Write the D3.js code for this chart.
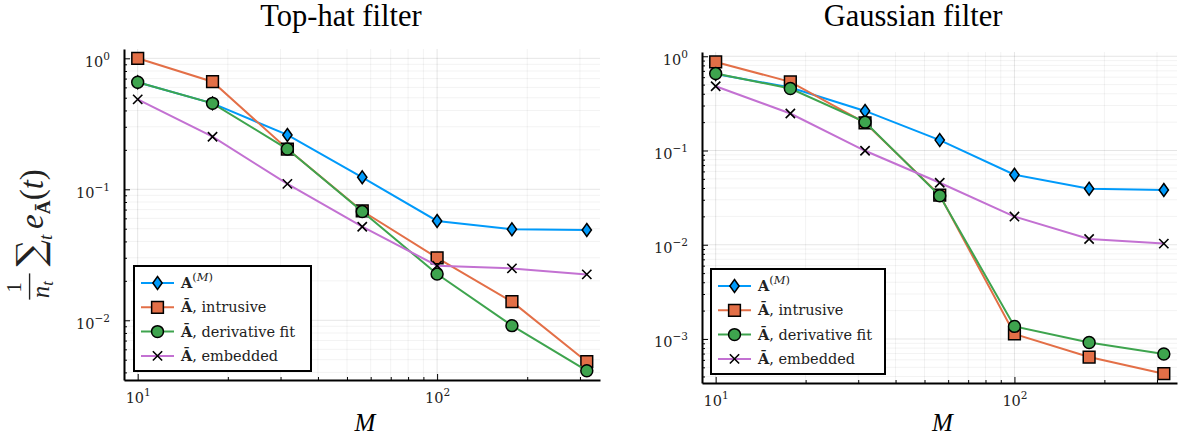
<!DOCTYPE html>
<html>
<head>
<meta charset="utf-8">
<script src="https://cdn.jsdelivr.net/npm/d3@7"></script>
<style>
  body { margin: 0; background: #fff; }
  svg { display: block; }
</style>
</head>
<body>
<svg id="chart" width="1181" height="441" font-family="Liberation Serif"></svg>
<script>
// reduced dimension M
const M = [10, 17.78, 31.62, 56.23, 100, 177.8, 316.2]

// top-hat filter
const topHatA = [0.656, 0.453, 0.26, 0.1235, 0.0573, 0.0495, 0.0489]
const topHatIntrusive = [1.0, 0.663, 0.203, 0.0683, 0.030, 0.01387, 0.00483]
const topHatDerivFit = [0.656, 0.453, 0.203, 0.0676, 0.02256, 0.0091, 0.00412]
const topHatEmbedded = [0.486, 0.252, 0.110, 0.0518, 0.0261, 0.0249, 0.0224]

// gaussian filter
const gaussA = [0.65, 0.466, 0.263, 0.129, 0.0553, 0.0393, 0.0381]
const gaussIntrusive = [0.87, 0.535, 0.197, 0.0337, 0.00113, 0.000643, 0.000428]
const gaussDerivFit = [0.655, 0.455, 0.2, 0.0331, 0.00136, 0.000918, 0.000692]
const gaussEmbedded = [0.481, 0.247, 0.0993, 0.0455, 0.0199, 0.0115, 0.01028]

const xTicks = [10, 100]
const yTicksTopHat = [1, 0.1, 0.01]
const yTicksGauss = [1, 0.1, 0.01, 0.001]

const COLORS = ["#009AFA", "#E36F47", "#3EA44E", "#C371D2"]
const MARKERS = ["diamond", "square", "circle", "times"]
const SMALLFONT = "DejaVu Serif"

const svg = d3.select("#chart")

// custom diamond, a bit wider than d3.symbolDiamond
const diamond = {
  draw(ctx, size) {
    const h = Math.sqrt(size) * 0.95, w = h * 0.72
    ctx.moveTo(0, -h); ctx.lineTo(w, 0); ctx.lineTo(0, h); ctx.lineTo(-w, 0); ctx.closePath()
  }
}

function drawMarker(g, kind, color, cx, cy) {
  if (kind == "times") {
    g.append("path")
      .attr("d", d3.symbol(d3.symbolTimes, 58)())
      .attr("transform", `translate(${cx},${cy})`)
      .attr("fill", "none").attr("stroke", "#000").attr("stroke-width", 1.6)
    return
  }
  let type = kind == "diamond" ? diamond : kind == "square" ? d3.symbolSquare : d3.symbolCircle
  let size = kind == "diamond" ? 46 : kind == "square" ? 138 : 112
  g.append("path")
    .attr("d", d3.symbol(type, size)())
    .attr("transform", `translate(${cx},${cy})`)
    .attr("fill", color).attr("stroke", "#000").attr("stroke-width", 1.5)
}

function powLabel(sel, d) {
  let e = Math.round(Math.log10(d))
  sel.text(null)
  sel.append("tspan").text("10")
  sel.append("tspan").attr("dy", -7).attr("font-size", 10.5)
    .text(e < 0 ? "\u2212" + (-e) : e)
}

function minorValues(scale) {
  return scale.ticks().filter(v => Math.abs(Math.log10(v) - Math.round(Math.log10(v))) > 1e-6)
}

function panel(cfg) {
  const g = svg.append("g")
  const x = d3.scaleLog().domain([9, 350]).range([cfg.left, cfg.right])
  const y = d3.scaleLog().domain(cfg.yDomain).range([cfg.bottom, cfg.top])

  // grid
  const grid = g.append("g")
  minorValues(x).forEach(v => grid.append("line")
    .attr("x1", x(v)).attr("x2", x(v)).attr("y1", cfg.top).attr("y2", cfg.bottom)
    .attr("stroke", "#000").attr("stroke-opacity", 0.05))
  minorValues(y).forEach(v => grid.append("line")
    .attr("y1", y(v)).attr("y2", y(v)).attr("x1", cfg.left).attr("x2", cfg.right)
    .attr("stroke", "#000").attr("stroke-opacity", 0.05))
  xTicks.forEach(v => grid.append("line")
    .attr("x1", x(v)).attr("x2", x(v)).attr("y1", cfg.top).attr("y2", cfg.bottom)
    .attr("stroke", "#000").attr("stroke-opacity", 0.1))
  cfg.yTicks.forEach(v => grid.append("line")
    .attr("y1", y(v)).attr("y2", y(v)).attr("x1", cfg.left).attr("x2", cfg.right)
    .attr("stroke", "#000").attr("stroke-opacity", 0.1))

  // minor ticks
  g.append("g").attr("transform", `translate(0,${cfg.bottom})`)
    .call(d3.axisBottom(x).tickValues(minorValues(x)).tickSizeInner(-3).tickSizeOuter(0).tickFormat(""))
    .call(a => a.select(".domain").remove())
  g.append("g").attr("transform", `translate(${cfg.left},0)`)
    .call(d3.axisLeft(y).tickValues(minorValues(y)).tickSizeInner(-3).tickSizeOuter(0).tickFormat(""))
    .call(a => a.select(".domain").remove())

  // major axes
  const xa = g.append("g").attr("transform", `translate(0,${cfg.bottom})`)
    .call(d3.axisBottom(x).tickValues(xTicks).tickSizeInner(-6).tickSizeOuter(0).tickPadding(16))
  const ya = g.append("g").attr("transform", `translate(${cfg.left},0)`)
    .call(d3.axisLeft(y).tickValues(cfg.yTicks).tickSizeInner(-6).tickSizeOuter(0).tickPadding(14))
  ;[xa, ya].forEach(a => {
    a.attr("font-family", SMALLFONT).attr("font-size", 14.5)
    a.select(".domain").attr("stroke-width", 2)
    a.selectAll(".tick line").attr("stroke-width", 1)
    a.selectAll(".tick text").attr("fill", "#222").each(function(d) { powLabel(d3.select(this), d) })
  })
  ya.selectAll(".tick text").attr("dy", "0.55em")
  xa.selectAll(".tick text").attr("dy", "0.45em")

  // series
  const line = d3.line().x((d, i) => x(M[i])).y(d => y(d))
  cfg.series.forEach((s, k) => {
    g.append("path").datum(s).attr("d", line)
      .attr("fill", "none").attr("stroke", COLORS[k]).attr("stroke-width", 2)
    s.forEach((v, i) => drawMarker(g, MARKERS[k], COLORS[k], x(M[i]), y(v)))
  })

  // titles
  g.append("text").attr("x", cfg.titleX).attr("y", 26)
    .attr("text-anchor", "middle").attr("font-size", 30.5).text(cfg.title)
  g.append("text").attr("x", (cfg.left + cfg.right) / 2 + 3).attr("y", 431)
    .attr("text-anchor", "middle").attr("font-size", 25).attr("font-style", "italic").text("M")

  // legend
  const lg = g.append("g").attr("transform", `translate(${cfg.legend[0]},${cfg.legend[1]})`)
  lg.append("rect").attr("width", cfg.legend[2]).attr("height", 105)
    .attr("fill", "#fff").attr("stroke", "#000").attr("stroke-width", 2)
  cfg.series.forEach((s, k) => {
    let yy = 17 + k * 24.3
    lg.append("line").attr("x1", 7).attr("x2", 40).attr("y1", yy).attr("y2", yy)
      .attr("stroke", COLORS[k]).attr("stroke-width", 2)
    drawMarker(lg, MARKERS[k], COLORS[k], 23.5, yy)
    let t = lg.append("text").attr("x", 47).attr("y", yy + 5)
      .attr("font-family", SMALLFONT).attr("font-size", 14.5).attr("fill", "#222")
    if (k == 0) {
      t.append("tspan").attr("font-weight", "bold").text("A")
      t.append("tspan").attr("dy", -7).attr("font-size", 11.5).text("(")
      t.append("tspan").attr("font-size", 11.5).attr("font-style", "italic").text("M")
      t.append("tspan").attr("font-size", 11.5).text(")")
    } else {
      t.append("tspan").attr("font-weight", "bold").text("\u0100")
      t.append("tspan").text(", " + ["", "intrusive", "derivative fit", "embedded"][k])
    }
  })
}

panel({
  left: 124, right: 600, top: 49, bottom: 380,
  yDomain: [0.0035, 1.178], yTicks: yTicksTopHat,
  series: [topHatA, topHatIntrusive, topHatDerivFit, topHatEmbedded],
  title: "Top-hat filter", titleX: 341, legend: [134, 266, 177]
})
panel({
  left: 702, right: 1177, top: 52, bottom: 383,
  yDomain: [0.000341, 1.11], yTicks: yTicksGauss,
  series: [gaussA, gaussIntrusive, gaussDerivFit, gaussEmbedded],
  title: "Gaussian filter", titleX: 913, legend: [711, 269, 174]
})

// y axis label: 1/n_t sum_t e_Abar(t)
const yl = svg.append("g").attr("transform", "translate(42,301) rotate(-90) scale(1.38)").attr("fill", "#222")
yl.append("text").attr("x", 10).attr("y", -15).attr("text-anchor", "middle").attr("font-size", 15).text("1")
yl.append("line").attr("x1", 1).attr("x2", 20).attr("y1", -9).attr("y2", -9).attr("stroke", "#222").attr("stroke-width", 1)
const nt = yl.append("text").attr("x", 2).attr("y", 5).attr("font-size", 18)
nt.append("tspan").attr("font-style", "italic").text("n")
nt.append("tspan").attr("font-style", "italic").attr("font-size", 12).attr("dy", 3).text("t")
const rest = yl.append("text").attr("x", 25).attr("y", 1).attr("font-size", 24)
rest.append("tspan").attr("font-family", "DejaVu Serif").attr("font-size", 27).text("\u2211")
rest.append("tspan").attr("font-style", "italic").attr("font-size", 14).attr("dy", 6).text("t")
rest.append("tspan").attr("font-style", "italic").attr("dy", -6).attr("dx", 4).text("e")
rest.append("tspan").attr("font-weight", "bold").attr("font-size", 14).attr("dy", 5).text("\u0100")
rest.append("tspan").attr("dy", -5).text("(")
rest.append("tspan").attr("font-style", "italic").text("t")
rest.append("tspan").text(")")
</script>
</body>
</html>
